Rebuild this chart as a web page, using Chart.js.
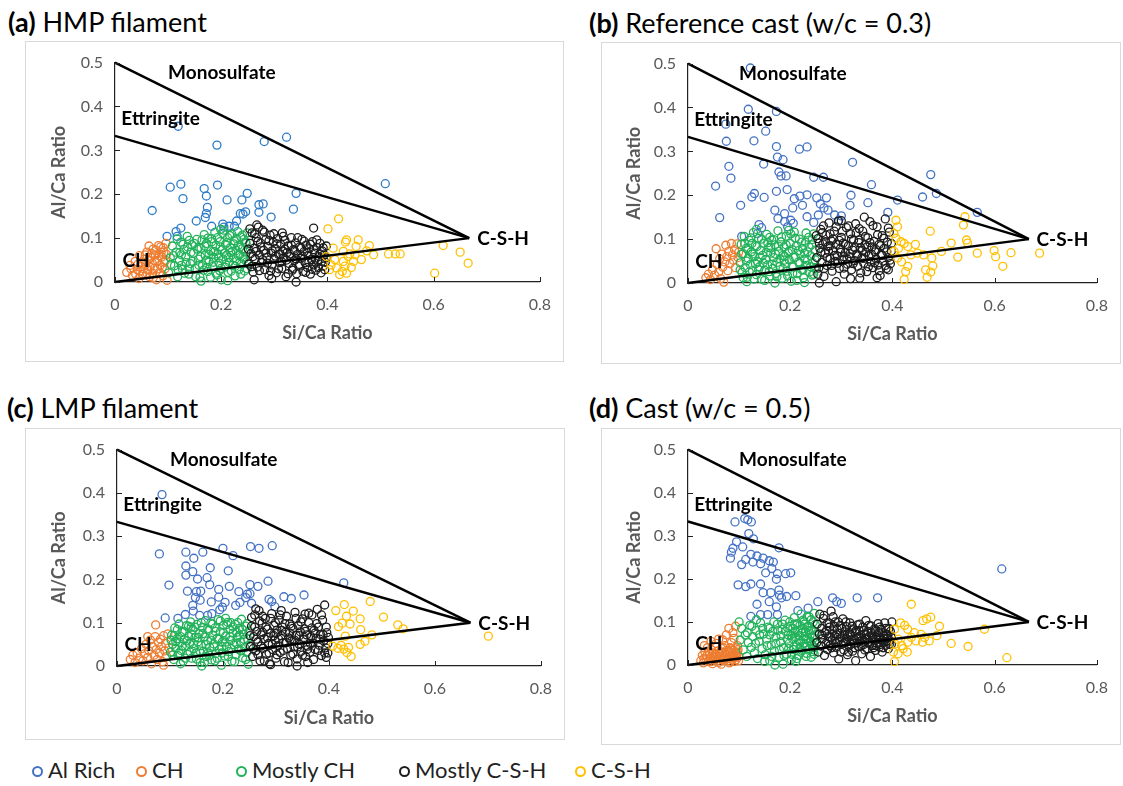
<!DOCTYPE html>
<html><head><meta charset="utf-8">
<script src="https://cdn.jsdelivr.net/npm/chart.js@4.4.1/dist/chart.umd.min.js"></script>
<style>
body{margin:0;background:#fff;width:1123px;height:786px;position:relative;overflow:hidden;font-family:Lato,'Open Sans',sans-serif;}
.frame{position:absolute;border:1px solid #d9d9d9;box-sizing:border-box;}
canvas{position:absolute;}
.ttl{position:absolute;font-size:27px;line-height:27px;color:#000;white-space:nowrap;}
.ttl b{font-weight:700;}
.leg{position:absolute;font-size:22px;line-height:22px;color:#222;white-space:nowrap;}
.dot{position:absolute;width:7px;height:7px;border:2px solid;border-radius:50%;}
</style></head>
<body>
<script>
// ---------- tick labels / categories ----------
const xTickValues = [0, 0.2, 0.4, 0.6, 0.8];
const xTickLabels = ['0', '0.2', '0.4', '0.6', '0.8'];
const yTickValues = [0, 0.1, 0.2, 0.3, 0.4, 0.5];
const yTickLabels = ['0', '0.1', '0.2', '0.3', '0.4', '0.5'];
const seriesNames = ['Al Rich', 'CH', 'Mostly CH', 'Mostly C-S-H', 'C-S-H'];
const panelTitles = [['(a)', 'HMP filament'], ['(b)', 'Reference cast (w/c = 0.3)'], ['(c)', 'LMP filament'], ['(d)', 'Cast (w/c = 0.5)']];
const phaseLabels = ['Monosulfate', 'Ettringite', 'C-S-H', 'CH'];
const phaseLabelX = [0.100, 0.012, 0.682, 0.014];
const phaseLabelY = [0.476, 0.372, 0.098, 0.048];
const monosulfateLine = [[0, 0.5], [0.667, 0.1]];
const ettringiteLine = [[0, 0.333], [0.667, 0.1]];
const chCshLine = [[0, 0], [0.667, 0.1]];

// ---------- (a) HMP filament ----------
const aAlRich = [[.119,.355],[.192,.312],[.281,.320],[.323,.330],[.509,.224],[.104,.216],[.124,.223],[.193,.221],[.168,.213],[.172,.196],[.128,.190],[.070,.163],[.211,.187],[.239,.187],[.249,.202],[.341,.202],[.336,.166],[.174,.170],[.172,.156],[.153,.139],[.170,.147],[.182,.127],[.203,.132],[.205,.125],[.215,.127],[.225,.127],[.229,.139],[.236,.156],[.241,.155],[.246,.160],[.271,.159],[.271,.176],[.279,.178],[.294,.148],[.098,.104],[.115,.115],[.117,.104],[.124,.123]];
const aCH = [[.022,.022],[.028,.038],[.033,.015],[.038,.047],[.042,.028],[.046,.060],[.049,.035],[.052,.018],[.055,.052],[.058,.040],[.060,.068],[.062,.027],[.065,.012],[.067,.056],[.070,.043],[.072,.075],[.074,.031],[.076,.062],[.078,.005],[.080,.049],[.082,.083],[.084,.022],[.085,.038],[.087,.068],[.088,.057],[.090,.014],[.091,.078],[.093,.045],[.094,.030],[.096,.088],[.097,.063],[.098,.004],[.064,.082],[.045,.008],[.071,.020],
 [.095,.050],[.092,.068],[.089,.033],[.086,.080],[.083,.060],[.080,.030],[.077,.072],[.075,.048],[.072,.010],[.069,.065],[.066,.035],[.063,.050],[.060,.020],[.057,.062],[.054,.030],[.051,.045],[.047,.025],[.043,.040],[.039,.018],[.030,.030]];
const aMostlyCH = [[.101,.021],[.104,.055],[.108,.082],[.112,.037],[.115,.068],[.118,.012],[.121,.049],[.124,.091],[.127,.029],[.130,.074],[.133,.058],[.136,.104],[.139,.018],[.142,.042],[.145,.085],[.148,.066],[.151,.031],[.154,.097],[.157,.052],[.160,.011],[.162,.077],[.165,.039],[.168,.108],[.170,.061],[.172,.088],[.175,.024],[.177,.047],[.180,.071],[.182,.099],[.184,.035],[.186,.056],[.188,.113],[.190,.083],[.192,.016],[.194,.064],[.196,.043],[.198,.092],[.200,.005],[.201,.073],[.203,.052],[.205,.118],[.207,.034],[.208,.086],[.210,.061],[.212,.101],[.213,.022],[.215,.045],[.217,.078],[.218,.067],[.220,.109],[.222,.038],[.223,.055],[.225,.094],[.226,.014],[.228,.072],[.229,.048],[.231,.115],[.232,.083],[.234,.029],[.235,.062],[.237,.103],[.238,.041],[.240,.076],[.241,.057],[.243,.097],[.244,.025],[.246,.068],[.247,.088],[.248,.046],[.249,.112],[.140,.095],[.125,.062],[.158,.079],[.173,.033],[.185,.070],[.197,.026],[.212,.003],[.162,.002],[.117,.098],[.199,.120],
 [.249,.030],[.246,.091],[.243,.052],[.240,.107],[.237,.018],[.235,.079],[.232,.060],[.229,.099],[.226,.036],[.224,.087],[.221,.070],[.219,.025],[.216,.106],[.214,.056],[.211,.090],[.208,.040],[.206,.066],[.203,.111],[.200,.031],[.198,.080],[.195,.055],[.193,.101],[.190,.020],[.188,.069],[.185,.045],[.182,.092],[.180,.011],[.177,.063],[.175,.100],[.172,.050],[.169,.082],[.167,.027],[.164,.096],[.161,.058],[.158,.038],[.155,.075],[.152,.012],[.149,.088],[.146,.047],[.143,.068],[.140,.030],[.137,.080],[.134,.044],[.131,.020],[.128,.086],[.125,.038],[.122,.067],[.119,.027],[.110,.060],[.105,.040]];
const aMostlyCSH = [[.252,.041],[.254,.088],[.256,.065],[.258,.112],[.260,.023],[.262,.077],[.264,.053],[.266,.101],[.268,.034],[.270,.125],[.272,.061],[.274,.089],[.276,.045],[.278,.118],[.280,.072],[.282,.028],[.284,.097],[.286,.056],[.288,.081],[.290,.015],[.292,.107],[.294,.066],[.296,.039],[.298,.091],[.300,.052],[.302,.076],[.304,.021],[.306,.099],[.308,.063],[.310,.044],[.312,.086],[.314,.031],[.316,.071],[.318,.055],[.320,.095],[.322,.012],[.324,.067],[.326,.082],[.328,.042],[.330,.058],[.332,.101],[.334,.027],[.336,.074],[.338,.049],[.340,.089],[.342,.019],[.344,.063],[.346,.036],[.348,.080],[.350,.054],[.352,.097],[.354,.024],[.356,.069],[.358,.044],[.360,.084],[.362,.033],[.364,.060],[.366,.076],[.368,.018],[.370,.051],[.372,.092],[.374,.039],[.376,.066],[.378,.027],[.380,.079],[.382,.047],[.384,.058],[.386,.088],[.388,.021],[.390,.071],[.392,.036],[.394,.062],[.396,.045],[.398,.082],[.374,.123],[.341,.000],[.267,.130],[.295,.008],[.315,.112],[.262,.005],
 [.398,.055],[.395,.028],[.392,.078],[.389,.047],[.386,.064],[.383,.033],[.380,.096],[.377,.052],[.374,.074],[.371,.029],[.368,.086],[.365,.045],[.362,.067],[.359,.022],[.356,.093],[.353,.059],[.350,.077],[.347,.040],[.344,.101],[.341,.053],[.338,.071],[.335,.031],[.332,.084],[.329,.064],[.326,.019],[.323,.050],[.320,.075],[.317,.104],[.314,.046],[.311,.064],[.308,.030],[.305,.087],[.302,.059],[.299,.110],[.296,.071],[.293,.025],[.290,.094],[.287,.043],[.284,.066],[.281,.114],[.278,.051],[.275,.080],[.272,.026],[.269,.092],[.266,.070],[.263,.110],[.260,.058],[.257,.035],[.254,.121],[.251,.075]];
const aCSH = [[.401,.121],[.421,.144],[.434,.091],[.458,.096],[.436,.096],[.479,.083],[.454,.081],[.411,.077],[.430,.070],[.442,.064],[.464,.051],[.487,.062],[.515,.064],[.528,.064],[.537,.064],[.618,.083],[.650,.068],[.665,.043],[.602,.020],[.398,.058],[.407,.039],[.417,.032],[.428,.024],[.436,.020],[.445,.033],[.414,.051],[.430,.047],[.439,.058],[.423,.017],[.449,.047],[.404,.028],[.433,.036],[.452,.062],[.474,.071]];

// ---------- (b) Reference cast (w/c = 0.3) ----------
const bAlRich = [[.122,.490],[.118,.396],[.173,.391],[.074,.362],[.152,.346],[.075,.323],[.129,.324],[.173,.311],[.218,.305],[.233,.310],[.148,.271],[.175,.287],[.186,.281],[.080,.266],[.084,.239],[.322,.275],[.178,.253],[.182,.244],[.192,.244],[.246,.241],[.265,.241],[.054,.221],[.125,.196],[.130,.204],[.149,.195],[.173,.209],[.194,.213],[.103,.177],[.062,.149],[.208,.192],[.219,.198],[.233,.201],[.205,.171],[.224,.177],[.252,.194],[.271,.194],[.259,.180],[.266,.171],[.274,.166],[.255,.155],[.287,.155],[.300,.153],[.295,.143],[.319,.200],[.317,.177],[.352,.183],[.359,.224],[.391,.161],[.410,.189],[.459,.196],[.475,.247],[.486,.204],[.566,.161],[.170,.166],[.189,.158],[.176,.147],[.189,.140],[.201,.143],[.206,.136],[.195,.128],[.136,.113],[.144,.126],[.139,.133],[.105,.106],[.246,.138],[.233,.151]];
const bCH = [[.035,.012],[.040,.020],[.044,.008],[.048,.030],[.052,.018],[.055,.078],[.057,.042],[.060,.025],[.062,.055],[.064,.010],[.066,.066],[.068,.036],[.070,.002],[.072,.048],[.074,.086],[.076,.060],[.078,.028],[.080,.072],[.082,.044],[.085,.090],[.087,.064],[.089,.052],[.091,.076],[.093,.035],[.096,.089],[.098,.058],[.099,.070]];
const bMostlyCH = [[.102,.046],[.104,.088],[.106,.024],[.108,.067],[.110,.106],[.112,.035],[.114,.079],[.116,.013],[.118,.056],[.120,.097],[.122,.042],[.124,.071],[.126,.028],[.128,.115],[.130,.060],[.132,.085],[.134,.019],[.136,.049],[.138,.102],[.140,.037],[.142,.074],[.144,.009],[.146,.063],[.148,.091],[.150,.029],[.152,.054],[.154,.111],[.156,.041],[.158,.081],[.160,.016],[.162,.068],[.164,.098],[.166,.033],[.168,.058],[.170,.087],[.172,.022],[.174,.047],[.176,.119],[.178,.072],[.180,.038],[.182,.094],[.184,.011],[.186,.063],[.188,.082],[.190,.044],[.192,.107],[.194,.027],[.196,.069],[.198,.053],[.200,.090],[.202,.004],[.204,.076],[.206,.036],[.208,.116],[.210,.059],[.212,.085],[.214,.021],[.216,.048],[.218,.100],[.220,.066],[.222,.031],[.224,.079],[.226,.012],[.228,.055],[.230,.093],[.232,.040],[.234,.071],[.236,.104],[.238,.025],[.240,.062],[.242,.087],[.244,.046],[.246,.112],[.248,.033],[.249,.075],[.115,.003],[.170,.000],[.228,.001],[.197,.120],[.134,.122],[.160,.104],[.188,.052],[.205,.022],[.125,.090],[.243,.018],
 [.249,.053],[.246,.020],[.243,.099],[.240,.037],[.237,.082],[.234,.052],[.231,.114],[.228,.068],[.225,.030],[.222,.093],[.219,.045],[.216,.074],[.213,.006],[.210,.102],[.207,.058],[.204,.039],[.201,.112],[.198,.073],[.195,.016],[.192,.087],[.189,.061],[.186,.032],[.183,.105],[.180,.055],[.177,.084],[.174,.014],[.171,.066],[.168,.099],[.165,.043],[.162,.080],[.159,.026],[.156,.092],[.153,.070],[.150,.006],[.147,.046],[.144,.100],[.141,.058],[.138,.030],[.135,.083],[.132,.044],[.129,.009],[.126,.066],[.123,.103],[.120,.025],[.117,.076],[.114,.050],[.111,.090],[.108,.012],[.105,.066],[.102,.030]];
const bMostlyCSH = [[.252,.058],[.254,.101],[.256,.034],[.258,.079],[.260,.122],[.262,.047],[.264,.089],[.266,.015],[.268,.068],[.270,.109],[.272,.040],[.274,.083],[.276,.137],[.278,.056],[.280,.096],[.282,.027],[.284,.074],[.286,.118],[.288,.049],[.290,.088],[.292,.062],[.294,.141],[.296,.033],[.298,.078],[.300,.104],[.302,.052],[.304,.091],[.306,.020],[.308,.069],[.310,.126],[.312,.043],[.314,.085],[.316,.060],[.318,.112],[.320,.030],[.322,.075],[.324,.098],[.326,.051],[.328,.135],[.330,.066],[.332,.038],[.334,.092],[.336,.011],[.338,.080],[.340,.057],[.342,.118],[.344,.045],[.346,.087],[.348,.070],[.350,.026],[.352,.103],[.354,.062],[.356,.140],[.358,.048],[.360,.082],[.362,.035],[.364,.095],[.366,.071],[.368,.055],[.370,.128],[.372,.041],[.374,.088],[.376,.017],[.378,.065],[.380,.108],[.382,.050],[.384,.079],[.386,.146],[.388,.033],[.390,.093],[.392,.058],[.394,.116],[.396,.044],[.398,.073],[.370,.012],[.290,.003],[.257,.000],[.318,.010],[.345,.150],[.300,.142],[.265,.130],[.392,.030],[.335,.124],[.278,.085],[.305,.060],
 [.398,.090],[.395,.052],[.392,.125],[.389,.071],[.386,.040],[.383,.102],[.380,.063],[.377,.085],[.374,.028],[.371,.110],[.368,.076],[.365,.046],[.362,.131],[.359,.066],[.356,.092],[.353,.037],[.350,.082],[.347,.106],[.344,.056],[.341,.074],[.338,.023],[.335,.098],[.332,.062],[.329,.115],[.326,.081],[.323,.044],[.320,.100],[.317,.067],[.314,.130],[.311,.055],[.308,.088],[.305,.034],[.302,.118],[.299,.070],[.296,.097],[.293,.045],[.290,.128],[.287,.063],[.284,.100],[.281,.040],[.278,.112],[.275,.072],[.272,.058],[.269,.094],[.266,.033],[.263,.115],[.260,.070],[.257,.091],[.254,.020],[.251,.108]];
const bCSH = [[.407,.143],[.410,.128],[.403,.113],[.407,.102],[.417,.094],[.412,.079],[.423,.090],[.430,.083],[.403,.072],[.410,.057],[.418,.048],[.430,.038],[.426,.026],[.423,.008],[.436,.064],[.445,.088],[.449,.068],[.461,.064],[.474,.118],[.477,.057],[.465,.030],[.468,.013],[.479,.039],[.475,.025],[.496,.072],[.515,.091],[.528,.059],[.539,.132],[.542,.151],[.545,.098],[.547,.091],[.566,.068],[.599,.074],[.602,.060],[.616,.038],[.632,.069],[.688,.068]];

// ---------- (c) LMP filament ----------
const cAlRich = [[.085,.396],[.080,.259],[.130,.263],[.145,.249],[.162,.263],[.200,.272],[.219,.255],[.252,.276],[.268,.272],[.293,.278],[.130,.231],[.143,.218],[.176,.227],[.098,.187],[.130,.210],[.152,.201],[.170,.204],[.210,.220],[.133,.173],[.150,.172],[.158,.173],[.148,.158],[.175,.188],[.192,.177],[.212,.184],[.251,.188],[.266,.184],[.285,.196],[.251,.167],[.230,.172],[.192,.159],[.204,.147],[.178,.148],[.157,.152],[.143,.140],[.144,.127],[.156,.117],[.171,.117],[.179,.121],[.194,.130],[.199,.136],[.224,.140],[.232,.147],[.243,.158],[.246,.166],[.254,.145],[.287,.154],[.292,.149],[.298,.137],[.315,.160],[.329,.156],[.353,.164],[.428,.192],[.091,.111],[.115,.110],[.129,.119]];
const cCH = [[.025,.015],[.030,.025],[.034,.008],[.038,.030],[.042,.018],[.046,.040],[.049,.012],[.052,.028],[.055,.050],[.058,.020],[.060,.035],[.063,.060],[.065,.005],[.067,.045],[.070,.025],[.072,.068],[.074,.038],[.076,.015],[.078,.055],[.080,.030],[.082,.062],[.084,.045],[.086,.010],[.088,.070],[.090,.035],[.092,.052],[.094,.022],[.096,.074],[.098,.042],[.073,.095],[.058,.068],[.088,.002]];
const cMostlyCH = [[.101,.032],[.103,.071],[.105,.050],[.107,.015],[.109,.088],[.111,.041],[.113,.063],[.115,.024],[.117,.097],[.119,.055],[.121,.036],[.123,.078],[.125,.011],[.127,.061],[.129,.046],[.131,.093],[.133,.027],[.135,.069],[.137,.052],[.139,.102],[.141,.018],[.143,.084],[.145,.040],[.147,.065],[.149,.030],[.151,.096],[.153,.056],[.155,.075],[.157,.008],[.159,.047],[.161,.089],[.163,.034],[.165,.067],[.167,.105],[.169,.022],[.171,.058],[.173,.082],[.175,.043],[.177,.099],[.179,.014],[.181,.071],[.183,.051],[.185,.088],[.187,.029],[.189,.064],[.191,.107],[.193,.038],[.195,.079],[.197,.002],[.199,.056],[.201,.094],[.203,.023],[.205,.069],[.207,.045],[.209,.101],[.211,.033],[.213,.085],[.215,.060],[.217,.011],[.219,.076],[.221,.049],[.223,.096],[.225,.026],[.227,.066],[.229,.039],[.231,.087],[.233,.055],[.235,.108],[.237,.019],[.239,.073],[.241,.043],[.243,.092],[.245,.031],[.247,.062],[.249,.080],[.160,.000],[.248,.004],[.120,.005],[.205,.110],[.185,.012],[.140,.090],[.226,.078],[.172,.030],[.198,.045],[.215,.100],
 [.249,.048],[.246,.098],[.243,.015],[.240,.062],[.237,.084],[.234,.035],[.231,.071],[.228,.100],[.225,.052],[.222,.010],[.219,.090],[.216,.040],[.213,.068],[.210,.022],[.207,.096],[.204,.055],[.201,.077],[.198,.030],[.195,.104],[.192,.062],[.189,.018],[.186,.080],[.183,.044],[.180,.097],[.177,.060],[.174,.025],[.171,.086],[.168,.050],[.165,.008],[.162,.075],[.159,.100],[.156,.035],[.153,.066],[.150,.016],[.147,.090],[.144,.052],[.141,.072],[.138,.032],[.135,.092],[.132,.058],[.129,.018],[.126,.080],[.123,.046],[.120,.068],[.117,.030],[.114,.084],[.111,.056],[.108,.070],[.105,.025],[.102,.060]];
const cMostlyCSH = [[.252,.045],[.254,.092],[.256,.022],[.258,.068],[.260,.118],[.262,.035],[.264,.080],[.266,.056],[.268,.128],[.270,.012],[.272,.072],[.274,.099],[.276,.041],[.278,.063],[.280,.110],[.282,.027],[.284,.085],[.286,.052],[.288,.005],[.290,.076],[.292,.121],[.294,.038],[.296,.094],[.298,.060],[.300,.018],[.302,.083],[.304,.047],[.306,.106],[.308,.031],[.310,.070],[.312,.090],[.314,.054],[.316,.010],[.318,.078],[.320,.115],[.322,.040],[.324,.065],[.326,.097],[.328,.025],[.330,.058],[.332,.087],[.334,.044],[.336,.124],[.338,.071],[.340,.016],[.342,.093],[.344,.050],[.346,.079],[.348,.034],[.350,.109],[.352,.061],[.354,.086],[.356,.022],[.358,.072],[.360,.046],[.362,.100],[.364,.032],[.366,.068],[.368,.118],[.370,.053],[.372,.082],[.374,.038],[.376,.064],[.378,.131],[.380,.090],[.382,.048],[.384,.073],[.386,.024],[.388,.106],[.390,.058],[.392,.141],[.394,.042],[.396,.077],[.398,.030],[.399,.066],[.262,.132],[.290,.003],[.340,.000],[.395,.020],[.310,.128],[.275,.115],[.355,.120],[.300,.075],[.327,.062],[.360,.008],
 [.398,.052],[.395,.090],[.392,.030],[.389,.072],[.386,.118],[.383,.062],[.380,.036],[.377,.098],[.374,.076],[.371,.015],[.368,.088],[.365,.052],[.362,.122],[.359,.038],[.356,.080],[.353,.066],[.350,.025],[.347,.102],[.344,.070],[.341,.044],[.338,.110],[.335,.060],[.332,.028],[.329,.092],[.326,.076],[.323,.008],[.320,.054],[.317,.098],[.314,.036],[.311,.082],[.308,.118],[.305,.062],[.302,.026],[.299,.100],[.296,.070],[.293,.050],[.290,.110],[.287,.030],[.284,.066],[.281,.090],[.278,.012],[.275,.078],[.272,.046],[.269,.104],[.266,.026],[.263,.062],[.260,.090],[.257,.040],[.254,.112],[.251,.070]];
const cCSH = [[.413,.128],[.429,.142],[.446,.127],[.478,.149],[.433,.115],[.459,.109],[.503,.113],[.425,.099],[.440,.097],[.460,.084],[.481,.072],[.530,.095],[.540,.086],[.701,.069],[.418,.091],[.431,.069],[.459,.050],[.468,.057],[.407,.046],[.417,.041],[.428,.039],[.434,.031],[.442,.022],[.423,.048],[.437,.043]];

// ---------- (d) Cast (w/c = 0.5) ----------
const dAlRich = [[.092,.332],[.111,.340],[.117,.337],[.124,.332],[.119,.305],[.128,.293],[.095,.286],[.088,.271],[.107,.274],[.085,.262],[.083,.248],[.123,.257],[.135,.253],[.147,.248],[.178,.272],[.113,.245],[.127,.239],[.105,.233],[.142,.235],[.159,.242],[.167,.239],[.152,.214],[.164,.224],[.175,.212],[.191,.212],[.201,.214],[.173,.199],[.098,.186],[.113,.182],[.123,.188],[.142,.188],[.147,.168],[.162,.168],[.178,.174],[.179,.162],[.183,.156],[.193,.159],[.211,.161],[.135,.141],[.159,.147],[.173,.135],[.123,.113],[.142,.117],[.156,.117],[.175,.117],[.215,.126],[.235,.132],[.254,.147],[.283,.156],[.291,.147],[.300,.143],[.331,.156],[.371,.156],[.614,.223]];
const dCH = [[.025,.010],[.028,.022],[.030,.005],[.033,.030],[.035,.015],[.038,.040],[.040,.008],[.042,.025],[.044,.018],[.046,.035],[.048,.003],[.050,.028],[.052,.012],[.054,.042],[.056,.020],[.058,.032],[.060,.006],[.062,.025],[.064,.015],[.066,.038],[.068,.030],[.070,.010],[.072,.045],[.074,.022],[.076,.034],[.078,.015],[.080,.028],[.082,.040],[.084,.008],[.086,.022],[.088,.035],[.090,.018],[.092,.030],[.094,.012],[.096,.026],[.098,.036],[.045,.055],[.060,.060],[.075,.070],[.088,.075],[.090,.062],[.080,.085],[.093,.090],[.032,.045],[.055,.050],[.068,.058],[.099,.020],[.085,.052],[.065,.002],[.097,.045],
 [.099,.010],[.097,.030],[.095,.018],[.093,.040],[.091,.008],[.089,.025],[.087,.012],[.085,.038],[.083,.020],[.081,.005],[.079,.032],[.077,.010],[.073,.028],[.071,.018],[.069,.040],[.067,.012],[.063,.030],[.061,.020],[.057,.010],[.053,.025],[.049,.018],[.045,.008],[.041,.030],[.037,.022],[.031,.015]];
const dMostlyCH = [[.102,.058],[.105,.085],[.108,.035],[.112,.070],[.115,.020],[.118,.052],[.121,.092],[.124,.041],[.127,.066],[.130,.028],[.133,.080],[.136,.015],[.139,.055],[.142,.098],[.145,.038],[.148,.072],[.151,.024],[.154,.060],[.157,.088],[.160,.010],[.163,.046],[.166,.078],[.169,.032],[.172,.065],[.175,.095],[.178,.018],[.181,.054],[.184,.083],[.187,.040],[.190,.104],[.193,.025],[.196,.070],[.198,.050],[.200,.090],[.202,.012],[.204,.062],[.206,.036],[.208,.110],[.210,.078],[.212,.045],[.214,.096],[.216,.022],[.218,.068],[.220,.054],[.221,.118],[.223,.034],[.224,.085],[.226,.061],[.227,.100],[.229,.043],[.230,.076],[.232,.027],[.233,.112],[.235,.057],[.236,.090],[.238,.038],[.239,.070],[.241,.105],[.242,.048],[.244,.082],[.245,.031],[.246,.063],[.247,.120],[.248,.052],[.249,.094],[.236,.080],[.228,.095],[.243,.066],[.211,.008],[.186,.002],[.100,.100],[.134,.105],[.170,.000],[.241,.018],[.219,.040],[.195,.086],[.231,.060],[.207,.074],[.248,.040],[.160,.070],
 [.249,.070],[.247,.025],[.245,.100],[.243,.045],[.241,.080],[.239,.055],[.237,.112],[.235,.035],[.233,.088],[.231,.020],[.229,.066],[.227,.050],[.225,.104],[.223,.075],[.221,.030],[.219,.092],[.217,.058],[.215,.080],[.213,.015],[.211,.065],[.209,.095],[.207,.042],[.205,.085],[.203,.025],[.201,.070],[.199,.100],[.197,.038],[.194,.060],[.191,.078],[.188,.022],[.185,.095],[.182,.068],[.179,.035],[.176,.080],[.172,.050],[.168,.100],[.164,.020],[.160,.085],[.155,.045],[.150,.008],[.146,.085],[.140,.070],[.132,.050],[.125,.090],[.116,.075]];
const dMostlyCSH = [[.252,.052],[.253,.095],[.255,.030],[.257,.072],[.258,.118],[.260,.044],[.262,.085],[.263,.061],[.265,.108],[.267,.022],[.268,.075],[.270,.050],[.272,.096],[.273,.036],[.275,.066],[.277,.088],[.278,.045],[.280,.125],[.282,.058],[.283,.079],[.285,.028],[.287,.068],[.288,.100],[.290,.041],[.292,.082],[.293,.055],[.295,.014],[.297,.073],[.298,.092],[.300,.048],[.302,.063],[.303,.107],[.305,.035],[.307,.077],[.308,.054],[.310,.089],[.312,.024],[.313,.066],[.315,.044],[.317,.098],[.318,.070],[.320,.058],[.322,.032],[.323,.084],[.325,.050],[.327,.075],[.328,.010],[.330,.062],[.332,.093],[.333,.043],[.335,.080],[.337,.055],[.338,.068],[.340,.026],[.342,.088],[.343,.047],[.345,.072],[.347,.060],[.348,.103],[.350,.038],[.352,.078],[.353,.052],[.355,.066],[.357,.020],[.358,.091],[.360,.045],[.362,.070],[.363,.058],[.365,.084],[.367,.034],[.368,.064],[.370,.050],[.372,.096],[.373,.075],[.375,.042],[.377,.061],[.378,.083],[.380,.030],[.382,.068],[.383,.054],[.385,.098],[.387,.046],[.388,.072],[.390,.062],[.392,.038],[.393,.085],[.395,.057],[.397,.067],[.398,.048],[.399,.100],
 [.398,.064],[.396,.078],[.394,.048],[.391,.070],[.389,.055],[.387,.085],[.384,.062],[.382,.040],[.380,.075],[.377,.052],[.375,.088],[.373,.060],[.370,.070],[.368,.045],[.366,.080],[.363,.040],[.361,.062],[.359,.075],[.356,.050],[.354,.092],[.351,.060],[.349,.070],[.346,.035],[.344,.080],[.341,.058],[.339,.045],[.336,.095],[.334,.066],[.331,.052],[.329,.080],[.326,.040],[.324,.060],[.321,.090],[.319,.048],[.316,.075],[.314,.030],[.311,.060],[.309,.100],[.306,.070],[.304,.050],[.301,.085],[.299,.030],[.296,.060],[.294,.100],[.291,.070],[.289,.050],[.286,.090],[.284,.112],[.281,.040],[.279,.065],[.276,.098],[.274,.055],[.271,.080],[.266,.115],[.262,.070]];
const dCSH = [[.437,.141],[.416,.098],[.424,.092],[.430,.083],[.404,.083],[.460,.103],[.467,.107],[.475,.111],[.492,.090],[.443,.075],[.456,.071],[.437,.064],[.463,.064],[.487,.068],[.411,.060],[.405,.049],[.418,.045],[.430,.053],[.446,.056],[.459,.053],[.472,.056],[.515,.050],[.548,.043],[.580,.083],[.624,.017],[.404,.008],[.411,.026],[.421,.038],[.402,.030],[.429,.030]];

// ---------- styling / layout ----------
const seriesColors = ['#4472C4', '#ED7D31', '#22B25A', '#1c1c1c', '#FFC000'];
const panelLayout = [
  {frame:[25, 41, 539, 321], plot:{l:90, t:20, r:515, b:241}, yTitleX:34, xTitleY:292, title:[8, 8], blue:'#2E7BC6', data:[aAlRich, aCH, aMostlyCH, aMostlyCSH, aCSH]},
  {frame:[601, 42, 520, 322], plot:{l:87, t:18, r:509, b:241}, yTitleX:33, xTitleY:292, title:[589, 9], blue:'#4472C4', data:[bAlRich, bCH, bMostlyCH, bMostlyCSH, bCSH]},
  {frame:[25, 428, 540, 312], plot:{l:92, t:12, r:521, b:238}, yTitleX:34, xTitleY:290, title:[7, 394], blue:'#4472C4', data:[cAlRich, cCH, cMostlyCH, cMostlyCSH, cCSH]},
  {frame:[601, 428, 520, 317], plot:{l:87, t:14, r:508, b:237}, yTitleX:33, xTitleY:288, title:[589, 394], blue:'#4472C4', data:[dAlRich, dCH, dMostlyCH, dMostlyCSH, dCSH]}
];
const legendPos = [[37, 48], [141, 152], [241, 252], [404, 415], [580, 591]];

Chart.defaults.font.family = 'Lato, "Open Sans", sans-serif';
Chart.defaults.animation = false;

const overlayPlugin = {
  id: 'overlay',
  afterDatasetsDraw(chart) {
    const {ctx, scales: {x, y}} = chart;
    ctx.save();
    ctx.strokeStyle = '#222';
    ctx.lineWidth = 1;
    xTickValues.forEach(v => {
      const px = Math.round(x.getPixelForValue(v)) + 0.5;
      ctx.beginPath(); ctx.moveTo(px, y.bottom); ctx.lineTo(px, y.bottom - 5); ctx.stroke();
    });
    yTickValues.forEach(v => {
      const py = Math.round(y.getPixelForValue(v)) + 0.5;
      ctx.beginPath(); ctx.moveTo(x.left, py); ctx.lineTo(x.left + 5, py); ctx.stroke();
    });
    ctx.fillStyle = '#000';
    ctx.font = 'bold 19px Lato, "Open Sans", sans-serif';
    ctx.textAlign = 'left';
    ctx.textBaseline = 'middle';
    phaseLabels.forEach((t, i) => {
      ctx.fillText(t, x.getPixelForValue(phaseLabelX[i]), y.getPixelForValue(phaseLabelY[i]));
    });
    ctx.restore();
  }
};

function toXY(arr) { return arr.map(p => ({x: p[0], y: p[1]})); }

panelLayout.forEach((p, idx) => {
  const [fx, fy, fw, fh] = p.frame;
  const fr = document.createElement('div');
  fr.className = 'frame';
  Object.assign(fr.style, {left: fx + 'px', top: fy + 'px', width: fw + 'px', height: fh + 'px'});
  document.body.appendChild(fr);

  const t = document.createElement('div');
  t.className = 'ttl';
  t.style.left = p.title[0] + 'px';
  t.style.top = p.title[1] + 'px';
  t.innerHTML = '<b>' + panelTitles[idx][0] + '</b> ' + panelTitles[idx][1];
  document.body.appendChild(t);

  const cv = document.createElement('canvas');
  cv.width = fw; cv.height = fh;
  Object.assign(cv.style, {left: fx + 'px', top: fy + 'px', width: fw + 'px', height: fh + 'px'});
  document.body.appendChild(cv);

  const datasets = [];
  const lines = [monosulfateLine, ettringiteLine, chCshLine];
  lines.forEach(l => datasets.push({
    type: 'line', data: toXY(l), showLine: true, borderColor: '#000', borderWidth: 2.5,
    pointRadius: 0, fill: false, order: 0, clip: false
  }));
  p.data.forEach((arr, i) => datasets.push({
    type: 'scatter', label: seriesNames[i], data: toXY(arr),
    borderColor: i === 0 ? p.blue : seriesColors[i], backgroundColor: 'rgba(0,0,0,0)',
    pointRadius: 4, pointBorderWidth: 1.3, pointStyle: 'circle', order: 5 - i, clip: false
  }));

  const tf = 18, lh = tf * 1.2;
  new Chart(cv, {
    type: 'scatter',
    data: {datasets},
    options: {
      responsive: false, devicePixelRatio: 1, animation: false,
      layout: {autoPadding: false, padding: {left: 0, top: p.plot.t, right: fw - p.plot.r, bottom: 0}},
      plugins: {legend: {display: false}, tooltip: {enabled: false}},
      scales: {
        x: {
          type: 'linear', min: 0, max: 0.8,
          afterBuildTicks: s => { s.ticks = xTickValues.map(v => ({value: v})); },
          afterFit: s => { s.height = fh - p.plot.b; },
          grid: {display: false, drawTicks: false},
          border: {display: true, color: '#222', width: 1.2},
          ticks: {padding: 13, color: '#595959', font: {size: 16},
            callback: (v) => xTickLabels[xTickValues.findIndex(t => Math.abs(t - v) < 1e-9)]},
          title: {display: true, text: 'Si/Ca Ratio', color: '#595959', font: {size: tf, weight: 'bold'},
            padding: {top: 0, bottom: fh - p.xTitleY - lh / 2}}
        },
        y: {
          type: 'linear', min: 0, max: 0.5,
          afterBuildTicks: s => { s.ticks = yTickValues.map(v => ({value: v})); },
          afterFit: s => { s.width = p.plot.l; },
          grid: {display: false, drawTicks: false},
          border: {display: true, color: '#222', width: 1.2},
          ticks: {padding: 12, color: '#595959', font: {size: 16},
            callback: (v) => yTickLabels[yTickValues.findIndex(t => Math.abs(t - v) < 1e-9)]},
          title: {display: true, text: 'Al/Ca Ratio', color: '#595959', font: {size: tf, weight: 'bold'},
            padding: {top: p.yTitleX - lh / 2, bottom: 0}}
        }
      }
    },
    plugins: [overlayPlugin]
  });
});

// legend
legendPos.forEach((lp, i) => {
  const d = document.createElement('div');
  d.className = 'dot';
  d.style.borderColor = seriesColors[i];
  d.style.left = (lp[0] - 5.5) + 'px';
  d.style.top = (771 - 5.5) + 'px';
  document.body.appendChild(d);
  const s = document.createElement('div');
  s.className = 'leg';
  s.textContent = seriesNames[i];
  s.style.left = lp[1] + 'px';
  s.style.top = (771 - 12) + 'px';
  document.body.appendChild(s);
});
</script>
</body></html>
